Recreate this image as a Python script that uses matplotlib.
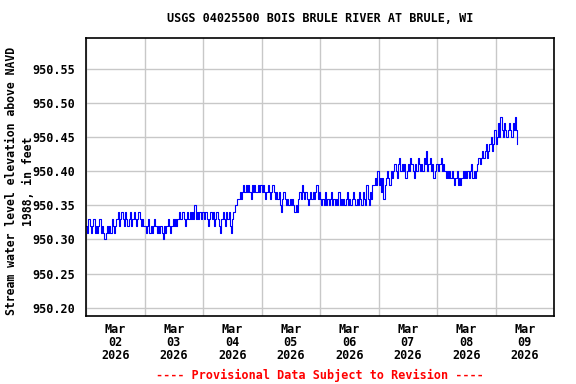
import numpy as np
import pandas as pd
import matplotlib
matplotlib.use('Agg')
import matplotlib.pyplot as plt
import matplotlib.dates as mdates

# gage height readings, hundredths of a foot above 950.00 ft, every 30 min
mar02 = [32, 31, 33, 32, 31, 32, 33, 31, 32, 31, 32, 33,
         31, 32, 31, 30, 31, 32, 31, 32, 31, 33, 32, 31,
         32, 33, 34, 32, 33, 34, 33, 32, 34, 33, 32, 33,
         34, 32, 33, 34, 33, 32, 33, 34, 33, 32, 33, 32]
mar03 = [32, 31, 32, 33, 31, 32, 31, 32, 33, 32, 31, 32,
         31, 32, 31, 30, 32, 31, 32, 33, 32, 31, 32, 33,
         32, 33, 32, 33, 34, 33, 33, 34, 33, 32, 33, 34,
         33, 34, 33, 34, 33, 35, 33, 34, 33, 34, 33, 34]
mar04 = [34, 33, 34, 33, 32, 33, 34, 33, 34, 32, 33, 34,
         33, 32, 31, 33, 34, 33, 32, 34, 33, 34, 32, 31,
         33, 34, 35, 35, 36, 36, 37, 36, 37, 38, 37, 38,
         37, 38, 37, 36, 38, 37, 38, 37, 37, 38, 37, 38]
mar05 = [37, 38, 37, 36, 37, 38, 37, 36, 37, 38, 37, 36,
         37, 36, 37, 35, 34, 36, 37, 36, 35, 36, 35, 36,
         35, 36, 35, 34, 35, 34, 36, 37, 36, 38, 37, 36,
         37, 36, 35, 36, 37, 36, 37, 36, 37, 38, 36, 37]
mar06 = [36, 35, 36, 35, 37, 35, 36, 35, 36, 37, 35, 36,
         35, 36, 35, 37, 35, 36, 35, 36, 35, 36, 37, 35,
         36, 35, 36, 37, 36, 35, 36, 35, 37, 36, 35, 37,
         36, 35, 38, 36, 35, 37, 36, 38, 38, 39, 38, 40]
mar07 = [38, 39, 37, 39, 36, 38, 39, 40, 39, 38, 40, 39,
         40, 41, 40, 39, 41, 42, 40, 41, 40, 41, 39, 40,
         41, 40, 42, 41, 40, 39, 41, 40, 42, 41, 40, 41,
         40, 42, 41, 43, 40, 41, 42, 40, 41, 39, 40, 41]
mar08 = [41, 40, 41, 42, 40, 41, 40, 39, 40, 39, 40, 39,
         40, 39, 38, 39, 40, 38, 39, 38, 39, 40, 39, 40,
         39, 40, 39, 40, 41, 39, 40, 39, 40, 41, 42, 41,
         42, 43, 42, 43, 44, 42, 43, 44, 45, 43, 44, 46]
mar09 = [44, 45, 47, 45, 48, 46, 45, 47, 46, 45, 46, 47,
         46, 45, 47, 46, 48, 46, 44]

days = ['2026-03-02', '2026-03-03', '2026-03-04', '2026-03-05',
        '2026-03-06', '2026-03-07', '2026-03-08', '2026-03-09']
readings = [mar02, mar03, mar04, mar05, mar06, mar07, mar08, mar09]

yticks = [950.20, 950.25, 950.30, 950.35, 950.40, 950.45, 950.50, 950.55]

times = []
vals = []
for d, r in zip(days, readings):
    times.extend(pd.date_range(d, periods=len(r), freq='30min'))
    vals.extend(r)
elev = 950.0 + np.array(vals) / 100.0

font = 'DejaVu Sans Mono'

fig = plt.figure(figsize=(5.76, 3.84), dpi=100)
ax = fig.add_axes([86 / 576, 1 - 316 / 384, 468 / 576, 278 / 384])
ax.plot(times, elev, color='#0000ff', lw=0.8, drawstyle='steps-post')

ax.set_xlim(pd.Timestamp('2026-03-02'), pd.Timestamp('2026-03-10'))
ax.set_ylim(950.188, 950.595)

ax.xaxis.set_minor_locator(mdates.DayLocator())
ax.xaxis.set_major_locator(mdates.HourLocator(byhour=12))
ax.xaxis.set_major_formatter(mdates.DateFormatter('%b\n%d\n%Y'))
ax.set_yticks(yticks)
ax.set_yticklabels(['%.2f' % y for y in yticks])

ax.grid(True, which='minor', axis='x', color='#c8c8c8', lw=1)
ax.grid(True, which='major', axis='y', color='#c8c8c8', lw=1)
ax.tick_params(which='both', length=0)
ax.tick_params(axis='x', pad=5)
ax.tick_params(axis='y', pad=8)
for lab in ax.get_xticklabels() + ax.get_yticklabels():
    lab.set_fontfamily(font)
    lab.set_fontweight('bold')
    lab.set_fontsize(8.5)
    lab.set_linespacing(1.0)
for s in ax.spines.values():
    s.set_linewidth(1.2)

fig.text(20 / 576, 1 - 181 / 384,
         'Stream water level elevation above NAVD\n1988, in feet',
         rotation=90, ha='center', va='center', multialignment='center',
         fontfamily=font, fontweight='bold', fontsize=8.3, linespacing=1.3)

fig.text(320 / 576, 1 - 19 / 384, 'USGS 04025500 BOIS BRULE RIVER AT BRULE, WI',
         ha='center', va='center', fontfamily=font, fontweight='bold', fontsize=8.5)
fig.text(320 / 576, 1 - 375 / 384, '---- Provisional Data Subject to Revision ----',
         ha='center', va='center', fontfamily=font, fontweight='bold', fontsize=8.5,
         color='red')

fig.savefig('out.png', dpi=100)
